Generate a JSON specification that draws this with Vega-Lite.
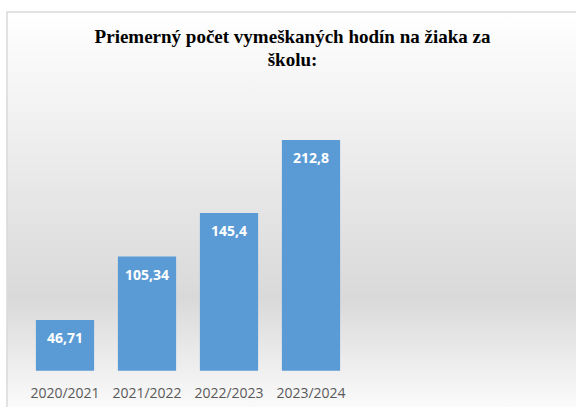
{
  "$schema": "https://vega.github.io/schema/vega-lite/v6.json",
  "autosize": "none",
  "padding": {"left": 7, "top": 12, "right": -2, "bottom": -2},
  "width": 571,
  "height": 397,
  "background": "#ffffff",
  "config": {
    "view": {
      "stroke": "#d9d9d9",
      "strokeWidth": 1.5,
      "fill": {
        "gradient": "linear",
        "x1": 0, "y1": 0, "x2": 0, "y2": 1,
        "stops": [
          {"offset": 0, "color": "#ffffff"},
          {"offset": 0.72, "color": "#d9d9d9"},
          {"offset": 1, "color": "#fbfbfb"}
        ]
      }
    }
  },
  "title": {
    "text": ["Priemerný počet vymeškaných hodín na žiaka za", "školu:"],
    "font": "Liberation Serif",
    "fontSize": 19,
    "fontWeight": "bold",
    "color": "#000000",
    "lineHeight": 23,
    "anchor": "middle",
    "align": "center",
    "frame": "group",
    "offset": -58
  },
  "data": {
    "values": [
      {"year": "2020/2021", "value": 46.71, "label": "46,71"},
      {"year": "2021/2022", "value": 105.34, "label": "105,34"},
      {"year": "2022/2023", "value": 145.4, "label": "145,4"},
      {"year": "2023/2024", "value": 212.8, "label": "212,8"}
    ]
  },
  "encoding": {
    "x": {
      "field": "year",
      "type": "nominal",
      "sort": null,
      "scale": {"range": [17, 345], "paddingInner": 0.29, "paddingOuter": 0.145},
      "axis": {
        "title": null,
        "orient": "bottom",
        "labelAngle": 0,
        "ticks": false,
        "tickSize": 0,
        "domain": false,
        "grid": false,
        "offset": -26,
        "labelPadding": 3,
        "labelFont": "Open Sans",
        "labelFontSize": 14,
        "labelColor": "#595959"
      }
    },
    "y": {
      "field": "value",
      "type": "quantitative",
      "scale": {"domain": [-35.3, 330.9], "nice": false, "zero": false},
      "axis": null
    }
  },
  "layer": [
    {"mark": {"type": "bar", "color": "#5b9bd5"},
     "encoding": {"y2": {"datum": 0}}},
    {
      "mark": {
        "type": "text",
        "color": "#ffffff",
        "font": "Open Sans",
        "fontSize": 14,
        "fontWeight": "bold",
        "baseline": "middle",
        "dy": 19
      },
      "encoding": {"text": {"field": "label"}}
    }
  ]
}
